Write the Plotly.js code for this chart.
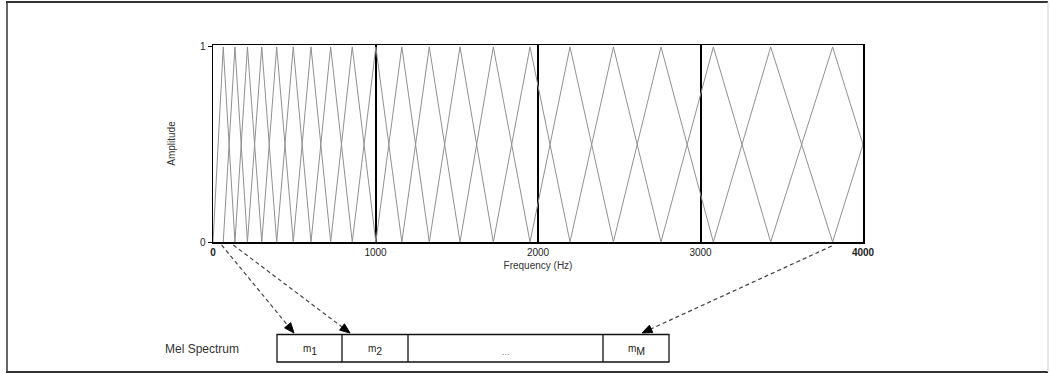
<!DOCTYPE html>
<html>
<head>
<meta charset="utf-8">
<script src="https://cdn.plot.ly/plotly-3.0.1.min.js"></script>
<style>html,body{margin:0;padding:0;background:#fff;}#chart{width:1050px;height:373px;}</style>
</head>
<body>
<div id="chart"></div>
<script>
// ---- data ----
// centre (peak) frequencies of the triangular mel filters, Hz
const peakFreqs = [63, 135, 212, 300, 392, 494, 603, 724, 857, 1002, 1162, 1331,
                   1520, 1725, 1951, 2197, 2464, 2757, 3079, 3432, 3813, 4187];
const lowestEdge = 0;      // Hz, left foot of the first filter
const peakAmp = 1;         // filter peak amplitude
const xTickVals = [0, 1000, 2000, 3000, 4000];
const xTickText = ['<b>0</b>', '1000', '2000', '3000', '<b>4000</b>'];
const yTickVals = [0, 1];
const yTickText = ['0', '1'];
const melNames = ['m', 'm', '', 'm'];
const melSubs = ['1', '2', '', 'M'];

// ---- build triangles ----
const edges = [lowestEdge].concat(peakFreqs);
const fx = [], fy = [];
for (let i = 0; i < peakFreqs.length; i++) {
  const lo = edges[i], c = peakFreqs[i];
  const hi = (i + 1 < peakFreqs.length) ? peakFreqs[i + 1] : c + (c - lo);
  fx.push(lo, c, hi, null);
  fy.push(0, peakAmp, 0, null);
}

// ---- pixel helpers for the diagram part (plot area 213..863 x 45..242) ----
const L = 213, R = 863, T = 45, B = 242;
const px = X => (X - L) / (R - L);
const py = Y => (B - Y) / (B - T);
const fToX = f => L + f * (R - L) / 4000;

const FONT = 'Liberation Sans, Arial, Helvetica, sans-serif';

const shapes = [];
// outer frame
shapes.push({type:'line', xref:'paper', yref:'paper', x0:px(6), x1:px(1048), y0:py(2), y1:py(2), line:{color:'#333', width:2}});
shapes.push({type:'line', xref:'paper', yref:'paper', x0:px(7), x1:px(7), y0:py(2), y1:py(372), line:{color:'#333', width:1.5}});
shapes.push({type:'line', xref:'paper', yref:'paper', x0:px(6), x1:px(1048), y0:py(372), y1:py(372), line:{color:'#333', width:2}});
shapes.push({type:'line', xref:'paper', yref:'paper', x0:px(1048), x1:px(1048), y0:py(2), y1:py(372), line:{color:'#d0d0d0', width:1}});

// mel spectrum box
const boxX = [277, 342, 408, 603, 669];
const boxTop = 334.5, boxBot = 362;
shapes.push({type:'rect', xref:'paper', yref:'paper', x0:px(boxX[0]), x1:px(boxX[4]), y0:py(boxTop), y1:py(boxBot), line:{color:'#111', width:1.3}, fillcolor:'rgba(0,0,0,0)'});
for (let k = 1; k < 4; k++) {
  shapes.push({type:'line', xref:'paper', yref:'paper', x0:px(boxX[k]), x1:px(boxX[k]), y0:py(boxTop), y1:py(boxBot), line:{color:'#111', width:1.3}});
}

// dashed arrows from filters to cells
const arrows = [
  {f: peakFreqs[0] - 10, y0: 245, X1: 294, Y1: 333},
  {f: peakFreqs[1] - 10, y0: 245, X1: 350, Y1: 333},
  {f: peakFreqs[20] - 5, y0: 246, X1: 642, Y1: 333}
];
arrows.forEach(a => {
  const X0 = fToX(a.f);
  const dx = a.X1 - X0, dy = a.Y1 - a.y0, n = Math.hypot(dx, dy);
  const ux = dx / n, uy = dy / n;
  const hl = 10, hw = 4;
  const bx = a.X1 - ux * hl, by = a.Y1 - uy * hl;
  shapes.push({type:'line', xref:'x', yref:'paper', x0:a.f, y0:py(a.y0), x1:px(bx) * 4000, y1:py(by),
               line:{color:'#444', width:1.2, dash:'4px,3px'}});
  const p1 = [a.X1, a.Y1], p2 = [bx - uy * hw, by + ux * hw], p3 = [bx + uy * hw, by - ux * hw];
  const path = 'M' + [p1, p2, p3].map(p => px(p[0]) + ',' + py(p[1])).join(' L') + ' Z';
  shapes.push({type:'path', xref:'paper', yref:'paper', path:path, fillcolor:'#000', line:{color:'#000', width:1}});
});

// cell labels
const annotations = [];
melNames.forEach((t, k) => {
  const cx = (boxX[k] + boxX[k + 1]) / 2;
  if (t === '') {
    annotations.push({xref:'paper', yref:'paper', x:px(cx), y:py(352), text:'...', showarrow:false,
      font:{family:FONT, size:9, color:'#777'}, xanchor:'center', yanchor:'middle'});
  } else {
    annotations.push({xref:'paper', yref:'paper', x:px(cx), y:py(350),
      text:'<span style="font-size:10px">' + t + '</span><sub>' + melSubs[k] + '</sub>', showarrow:false,
      font:{family:FONT, size:15, color:'#222'}, xanchor:'center', yanchor:'middle'});
  }
});
annotations.push({xref:'paper', yref:'paper', x:px(202), y:py(349), text:'Mel Spectrum', showarrow:false,
  font:{family:FONT, size:12, color:'#333'}, xanchor:'center', yanchor:'middle'});

const traces = [{
  x: fx, y: fy, type:'scatter', mode:'lines',
  line:{color:'#909090', width:1}, hoverinfo:'skip', showlegend:false
}];

const layout = {
  width:1050, height:373,
  margin:{l:L, r:1050 - R, t:T, b:373 - B, pad:0},
  paper_bgcolor:'#fff', plot_bgcolor:'#fff',
  showlegend:false,
  xaxis:{
    range:[0, 4000], tickvals:xTickVals, ticktext:xTickText,
    showgrid:true, gridcolor:'#000', gridwidth:2,
    showline:true, linecolor:'#000', linewidth:1.5, mirror:true,
    ticks:'', zeroline:false,
    tickfont:{family:FONT, size:10, color:'#222'},
    title:{text:'Frequency (Hz)', font:{family:FONT, size:10, color:'#333'}, standoff:5},
    automargin:false, fixedrange:true
  },
  yaxis:{
    range:[0, 1.01], tickvals:yTickVals, ticktext:yTickText,
    showgrid:false, zeroline:false,
    showline:true, linecolor:'#000', linewidth:1.5, mirror:true,
    ticks:'outside', ticklen:4, tickcolor:'#000', tickwidth:1,
    tickfont:{family:FONT, size:10, color:'#222'},
    title:{text:'Amplitude', font:{family:FONT, size:10, color:'#333'}, standoff:22},
    automargin:false, fixedrange:true
  },
  shapes: shapes,
  annotations: annotations
};

Plotly.newPlot('chart', traces, layout, {displayModeBar:false, staticPlot:true});
</script>
</body>
</html>
